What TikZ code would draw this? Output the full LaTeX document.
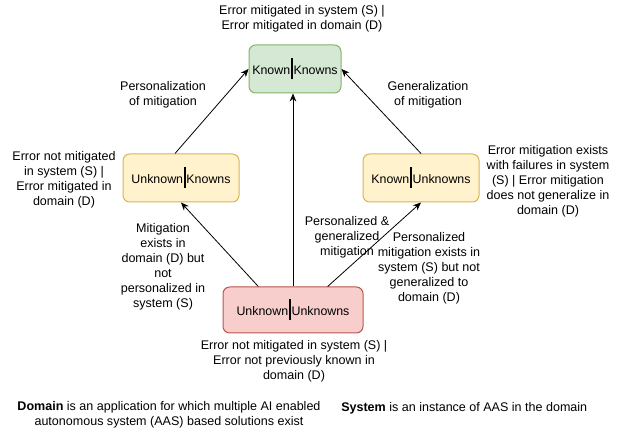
\documentclass[tikz,border=0pt]{standalone}
\usepackage{fontspec}
\setmainfont{Liberation Sans}
\usetikzlibrary{arrows.meta}
\definecolor{kkfill}{HTML}{D5E8D4}\definecolor{kkline}{HTML}{82B366}
\definecolor{ukfill}{HTML}{FFF2CC}\definecolor{ukline}{HTML}{D6B656}
\definecolor{uufill}{HTML}{F8CECC}\definecolor{uuline}{HTML}{B85450}
\newcommand{\kbar}{\hspace{0.5pt}\rule[-3.75pt]{1.5pt}{15.75pt}\hspace{0.5pt}}
\tikzset{
  quad/.style={draw, line width=0.75pt, rounded corners=5pt, minimum height=36pt, inner sep=0pt, font=\fontsize{9.3}{11}\selectfont},
  note/.style={align=center, inner sep=0pt, font=\fontsize{9.4}{11.25}\selectfont},
  link/.style={-{Stealth[length=6pt,width=5pt]}, line width=0.6pt},
}
\begin{document}
\begin{tikzpicture}[x=0.75pt, y=-0.75pt]
    \useasboundingbox (0,0) rectangle (626,431);
    % Quadrants
    \node[quad, fill=kkfill, draw=kkline, minimum width=69pt] (kk) at (295,69) {Known\kbar Knowns};
    \node[quad, fill=ukfill, draw=ukline, minimum width=87pt] (uk) at (181,178) {Unknown\kbar Knowns};
    \node[quad, fill=ukfill, draw=ukline, minimum width=87pt] (ku) at (421,178) {Known\kbar Unknowns};
    \node[quad, fill=uufill, draw=uuline, minimum width=105pt, minimum height=34.5pt] (uu) at (293,310) {Unknown\kbar Unknowns};

    % Transitions
    \draw[link] ([xshift=-4.5pt]uk.north) -- (kk.west);
    \draw[link] (ku.north) -- (kk.east);
    \draw[link] (uu.north) -- (uu.north |- kk.south);
    \draw[link] ([xshift=-26pt]uu.north) -- (uk.south);
    \draw[link] ([xshift=26pt]uu.north) -- (ku.south);

    % State descriptions
    \node[note] (kknote) at (302,19) {Error mitigated in system (S) |\\Error mitigated in domain (D)};
    \node[note] (uknote) at (64,180) {Error not mitigated\\in system (S) |\\Error mitigated in\\domain (D)};
    \node[note] (kunote) at (548,181) {Error mitigation exists\\with failures in system\\(S) | Error mitigation\\does not generalize in\\domain (D)};
    \node[note] (uunote) at (294,361) {Error not mitigated in system (S) |\\Error not previously known in\\domain (D)};

    % Transition labels
    \node[note] (perslbl) at (163,95) {Personalization\\of mitigation};
    \node[note] (genlbl) at (428,95) {Generalization\\of mitigation};
    \node[note] (domlbl) at (163,267) {Mitigation\\exists in\\domain (D) but\\not\\personalized in\\system (S)};
    \node[note] (bothlbl) at (347,237) {Personalized \&\\generalized\\mitigation};
    \node[note] (syslbl) at (429,268) {Personalized\\mitigation exists in\\system (S) but not\\generalized to\\domain (D)};

    % Definitions
    \node[note] (domdef) at (169,415) {\textbf{Domain} is an application for which multiple AI enabled\\autonomous system (AAS) based solutions exist};
    \node[note, anchor=west] (sysdef) at (341,408) {\textbf{System} is an instance of AAS in the domain};
\end{tikzpicture}
\end{document}
